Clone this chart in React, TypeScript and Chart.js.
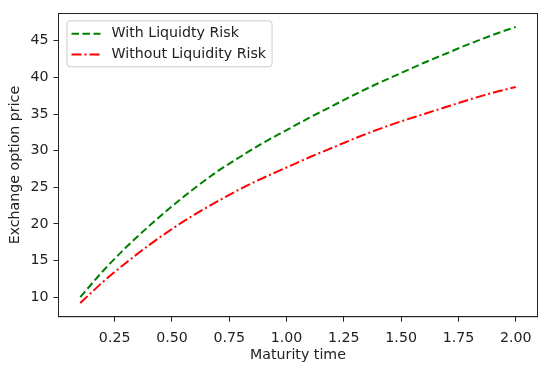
import React, { useEffect, useRef } from "react";
import { Chart, registerables } from "chart.js";

Chart.register(...registerables);

const maturity = [0.1, 0.2, 0.3, 0.4, 0.5, 0.6, 0.7, 0.8, 0.9, 1.0, 1.1, 1.2, 1.3, 1.4, 1.5, 1.6, 1.7, 1.8, 1.9, 2.0];
const withLiquidity = [10.0, 13.6, 16.8, 19.7, 22.4, 24.9, 27.2, 29.2, 31.1, 32.8, 34.5, 36.1, 37.7, 39.2, 40.6, 42.0, 43.3, 44.6, 45.8, 46.9];
const withoutLiquidity = [9.2, 12.1, 14.7, 17.1, 19.3, 21.3, 23.1, 24.8, 26.3, 27.7, 29.1, 30.4, 31.7, 32.9, 34.0, 35.0, 36.0, 37.0, 37.9, 38.7];
const xTicks = [0.25, 0.5, 0.75, 1.0, 1.25, 1.5, 1.75, 2.0];
const yTicks = [10, 15, 20, 25, 30, 35, 40, 45];
const seriesLabels = ["With Liquidty Risk", "Without Liquidity Risk"];
const xTitle = "Maturity time";
const yTitle = "Exchange option price";

const FONT = "DejaVu Sans";
const FS = 14.2;
const INK = "#222";

const framePlugin = {
  id: "frame",
  afterDatasetsDraw(chart: any) {
    const { ctx, chartArea: a } = chart;
    ctx.save();
    ctx.strokeStyle = INK;
    ctx.lineWidth = 1;
    ctx.strokeRect(a.left, a.top, a.right - a.left, a.bottom - a.top);
    ctx.restore();
  },
};

const legendPlugin = {
  id: "mplLegend",
  afterDraw(chart: any) {
    const { ctx, chartArea: a } = chart;
    const ds = chart.data.datasets;
    ctx.save();
    ctx.font = `${FS}px "${FONT}"`;
    const x0 = a.left + 8.5;
    const y0 = a.top + 7.3;
    const maxW = Math.max(...ds.map((d: any) => ctx.measureText(d.label).width));
    const textX = x0 + 44.5;
    const w = textX + maxW + 6 - x0;
    const h = 46;
    const r = 3;
    ctx.beginPath();
    ctx.moveTo(x0 + r, y0);
    ctx.lineTo(x0 + w - r, y0);
    ctx.quadraticCurveTo(x0 + w, y0, x0 + w, y0 + r);
    ctx.lineTo(x0 + w, y0 + h - r);
    ctx.quadraticCurveTo(x0 + w, y0 + h, x0 + w - r, y0 + h);
    ctx.lineTo(x0 + r, y0 + h);
    ctx.quadraticCurveTo(x0, y0 + h, x0, y0 + h - r);
    ctx.lineTo(x0, y0 + r);
    ctx.quadraticCurveTo(x0, y0, x0 + r, y0);
    ctx.closePath();
    ctx.fillStyle = "rgba(255,255,255,0.8)";
    ctx.fill();
    ctx.strokeStyle = "#cccccc";
    ctx.lineWidth = 1;
    ctx.stroke();
    ds.forEach((d: any, i: number) => {
      const cy = y0 + 13 + i * 20.7;
      ctx.beginPath();
      ctx.setLineDash(d.borderDash || []);
      ctx.strokeStyle = d.borderColor;
      ctx.lineWidth = d.borderWidth;
      ctx.moveTo(x0 + 4.5, cy);
      ctx.lineTo(x0 + 33.5, cy);
      ctx.stroke();
      ctx.setLineDash([]);
      ctx.fillStyle = INK;
      ctx.textBaseline = "middle";
      ctx.textAlign = "left";
      ctx.fillText(d.label, textX, cy);
    });
    ctx.restore();
  },
};

export default function App() {
  const ref = useRef<HTMLCanvasElement>(null);
  useEffect(() => {
    document.body.style.margin = "0";
    Chart.defaults.font.family = FONT;
    Chart.defaults.font.size = FS;
    const chart = new Chart(ref.current!, {
      type: "line",
      data: {
        datasets: [
          {
            label: seriesLabels[0],
            data: maturity.map((t, i) => ({ x: t, y: withLiquidity[i] })),
            borderColor: "#008000",
            backgroundColor: "#008000",
            borderWidth: 2,
            borderDash: [7.5, 3.5],
            pointRadius: 0,
            cubicInterpolationMode: "monotone",
            fill: false,
          },
          {
            label: seriesLabels[1],
            data: maturity.map((t, i) => ({ x: t, y: withoutLiquidity[i] })),
            borderColor: "#ff0000",
            backgroundColor: "#ff0000",
            borderWidth: 2,
            borderDash: [10, 3, 2, 3],
            pointRadius: 0,
            cubicInterpolationMode: "monotone",
            fill: false,
          },
        ],
      },
      options: {
        animation: false,
        responsive: true,
        maintainAspectRatio: false,
        layout: { padding: { left: 0, right: 12.5, top: 6.7, bottom: 0 } },
        plugins: { legend: { display: false }, tooltip: { enabled: false } },
        scales: {
          x: {
            type: "linear",
            min: 0.005,
            max: 2.095,
            afterBuildTicks: (s: any) => {
              s.ticks = xTicks.map((v) => ({ value: v }));
            },
            afterFit: (s: any) => {
              s.height = 55.3;
            },
            ticks: {
              callback: (v: any) => Number(v).toFixed(2),
              maxRotation: 0,
              autoSkip: false,
              padding: 8.5,
              color: INK,
              font: { size: FS },
            },
            grid: { drawOnChartArea: false, drawTicks: true, tickLength: 5, color: INK },
            border: { display: true, color: INK },
            title: { display: true, text: xTitle, color: INK, font: { size: FS }, padding: { top: 0, bottom: 8.5 } },
          },
          y: {
            type: "linear",
            min: 7.33,
            max: 48.72,
            afterBuildTicks: (s: any) => {
              s.ticks = yTicks.map((v) => ({ value: v }));
            },
            afterFit: (s: any) => {
              s.width = 58.5;
            },
            ticks: {
              callback: (v: any) => String(v),
              autoSkip: false,
              padding: 5,
              color: INK,
              font: { size: FS },
            },
            grid: { drawOnChartArea: false, drawTicks: true, tickLength: 5, color: INK },
            border: { display: true, color: INK },
            title: { display: true, text: yTitle, color: INK, font: { size: FS }, padding: { top: 6.7, bottom: 0 } },
          },
        },
      },
      plugins: [framePlugin, legendPlugin],
    } as any);
    return () => chart.destroy();
  }, []);
  return (
    <div style={{ width: 550, height: 372, position: "relative" }}>
      <canvas ref={ref} />
    </div>
  );
}
